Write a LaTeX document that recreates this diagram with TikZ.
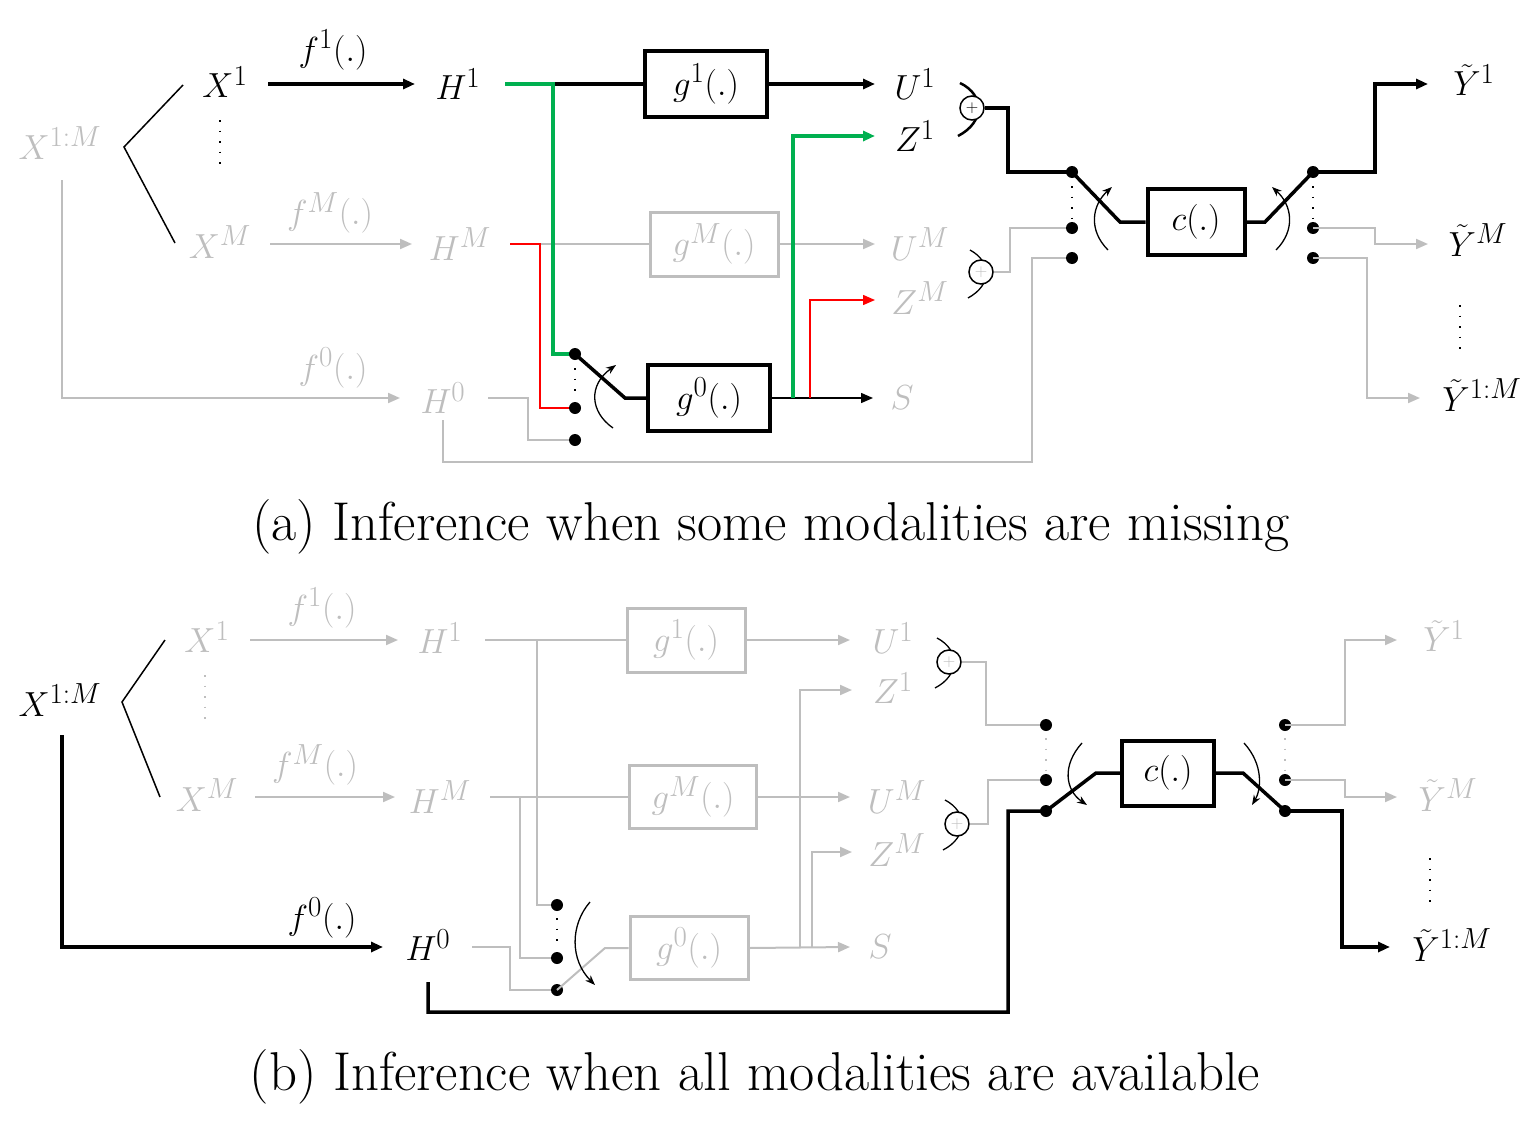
\documentclass[tikz,border=0pt]{standalone}
\usepackage{graphicx}
\usetikzlibrary{arrows.meta}
\definecolor{gr}{RGB}{190,190,190}
\definecolor{grn}{RGB}{0,176,80}
\newcommand{\zz}[1]{\scalebox{1.4}{#1}}
\newcommand{\zc}[1]{\scalebox{2.2}{#1}}
\begin{document}
\begin{tikzpicture}[x=1pt,y=-1pt,
 lab/.style={font=\Huge,inner sep=0pt},
 captxt/.style={font=\Huge,inner sep=0pt},
 box/.style={draw,line width=4pt},
 gbox/.style={draw=gr,line width=3pt,text=gr},
 ar/.style={-{Triangle[length=12pt,width=10pt]}},
 th/.style={line width=3.5pt},
 gl/.style={gr,line width=2pt},
 dot/.style={circle,fill,inner sep=0pt,minimum size=12pt},
 dts/.style={line width=1.5pt,dash pattern=on 1.5pt off 9pt},
 sw/.style={line width=1.3pt,-{Stealth[length=10pt]}},
 plus/.style={circle,draw,line width=1.5pt,minimum size=24pt,inner sep=0pt,font=\LARGE}]
\useasboundingbox (0,0) rectangle (1527,1135);
% ===================== (a) =====================
\node[lab,text=gr] (aX) at (60,143) {\zz{$X^{1:M}$}};
\node[lab] (aX1) at (225,82) {\zz{$X^1$}};
\node[lab,text=gr] (aXM) at (220,242) {\zz{$X^M$}};
\draw[line width=1.5pt] (183,85)--(124,147)--(175,243);
\draw[dts] (220,120)--(220,168);
\node[lab] (aH1) at (458,84) {\zz{$H^1$}};
\node[lab,text=gr] (aHM) at (460,244) {\zz{$H^M$}};
\node[lab,text=gr] (aH0) at (443,398) {\zz{$H^0$}};
\draw[th,ar] (268,84)--(415,84);
\node[lab] at (333,50) {\zz{$f^1(.)$}};
\draw[gl,ar] (270,244)--(412,244);
\node[lab,text=gr] at (330,213) {\zz{$f^M(.)$}};
\draw[gl,ar] (62,180)--(62,398)--(400,398);
\node[lab,text=gr] at (333,368) {\zz{$f^0(.)$}};
\node[box,minimum width=122pt,minimum height=66pt,lab] (ag1) at (706,84) {\zz{$g^1(.)$}};
\node[gbox,minimum width=128pt,minimum height=64pt,lab,text=gr] (agM) at (714,244) {\zz{$g^M(.)$}};
\node[box,minimum width=122pt,minimum height=66pt,lab] (ag0) at (709,398) {\zz{$g^0(.)$}};
\draw[th] (553,84)--(ag1.west);
\draw[th,ar] (ag1.east)--(875,84);
\node[lab] (aU1) at (915,84) {\zz{$U^1$}};
\node[lab] (aZ1) at (915,136) {\zz{$Z^1$}};
\node[lab,text=gr] (aUM) at (920,244) {\zz{$U^M$}};
\node[lab,text=gr] (aZM) at (920,298) {\zz{$Z^M$}};
\node[lab,text=gr] (aS) at (902,398) {\zz{$S$}};
\draw[gl] (510,244)--(agM.west);
\draw[gl,ar] (agM.east)--(875,244);
\draw[red,line width=2pt] (510,244)--(540,244)--(540,408)--(575,408);
\draw[gl] (488,398)--(528,398)--(528,440)--(575,440);
\draw[grn,line width=4pt] (505,84)--(553,84)--(553,354)--(575,354);
\node[dot] (as1) at (575,354) {};
\node[dot] (as2) at (575,408) {};
\node[dot] (as3) at (575,440) {};
\draw[dts] (575,368)--(575,398);
\draw[th] (as1.center)--(625,398)--(ag0.west);
\draw[sw] (613,428) .. controls (590,412) and (588,385) .. (616,365);
\draw[line width=1.5pt,ar] (ag0.east)--(873,398);
\draw[grn,line width=4pt] (793,398)--(793,136);
\draw[grn,line width=4pt,ar] (791,136)--(875,136);
\draw[red,line width=1.5pt,ar] (810,398)--(810,300)--(875,300);
\draw[gl] (443,420)--(443,462)--(1032,462)--(1032,258)--(1072,258);
% plus a
\draw[line width=2.5pt] (960,83) .. controls (985,95) and (985,122) .. (958,136);
\node[plus,fill=white] (ap1) at (972,108) {$+$};
\draw[line width=1.3pt] (970,250) .. controls (992,262) and (992,285) .. (968,298);
\node[plus,fill=white,text=gr] (apM) at (981,272) {$+$};
\draw[th] (ap1.east)--(1008,108)--(1008,172)--(1072,172);
\draw[gl] (apM.east)--(1010,272)--(1010,228)--(1072,228);
\node[dot] (ac1) at (1072,172) {};
\node[dot] (ac2) at (1072,228) {};
\node[dot] (ac3) at (1072,258) {};
\draw[dts] (1072,186)--(1072,218);
\node[box,minimum width=97pt,minimum height=66pt,lab] (ac) at (1196,222) {\zz{$c(.)$}};
\draw[th] (ac1.center)--(1120,222)--(ac.west);
\draw[sw] (1108,250) .. controls (1088,230) and (1092,205) .. (1112,187);
\draw[th] (ac.east)--(1265,222)--(1313,172);
\draw[sw] (1276,250) .. controls (1296,230) and (1292,205) .. (1272,187);
\node[dot] (ad1) at (1313,172) {};
\node[dot] (ad2) at (1313,228) {};
\node[dot] (ad3) at (1313,258) {};
\draw[dts] (1313,186)--(1313,218);
\draw[th,ar] (ad1.center)--(1375,172)--(1375,84)--(1428,84);
\draw[gl,ar] (ad2.center)--(1375,228)--(1375,244)--(1428,244);
\draw[gl,ar] (ad3.center)--(1367,258)--(1367,398)--(1420,398);
\node[lab] at (1474,80) {\zz{$\tilde{Y}^1$}};
\node[lab] at (1478,240) {\zz{$\tilde{Y}^M$}};
\node[lab] at (1482,395) {\zz{$\tilde{Y}^{1:M}$}};
\draw[dts] (1460,305)--(1460,352);
\node[captxt] at (771,527) {\zc{(a) Inference when some modalities are missing}};
% ===================== (b) =====================
\node[lab] (bX) at (60,700) {\zz{$X^{1:M}$}};
\node[lab,text=gr] (bX1) at (207,637) {\zz{$X^1$}};
\node[lab,text=gr] (bXM) at (207,795) {\zz{$X^M$}};
\draw[line width=1.5pt] (165,640)--(122,702)--(160,797);
\draw[gr,dts] (205,675)--(205,722);
\draw[th,ar] (62,735)--(62,947)--(383,947);
\node[lab] at (322,918) {\zz{$f^0(.)$}};
\node[lab] (bH0) at (428,945) {\zz{$H^0$}};
\draw[gl,ar] (250,640)--(398,640);
\node[lab,text=gr] at (322,608) {\zz{$f^1(.)$}};
\node[lab,text=gr] (bH1) at (440,638) {\zz{$H^1$}};
\draw[gl,ar] (255,797)--(395,797);
\node[lab,text=gr] at (315,765) {\zz{$f^M(.)$}};
\node[lab,text=gr] (bHM) at (440,797) {\zz{$H^M$}};
\node[gbox,minimum width=118pt,minimum height=64pt,lab,text=gr] (bg1) at (686,640) {\zz{$g^1(.)$}};
\node[gbox,minimum width=127pt,minimum height=63pt,lab,text=gr] (bgM) at (693,797) {\zz{$g^M(.)$}};
\node[gbox,minimum width=118pt,minimum height=63pt,lab,text=gr] (bg0) at (689,948) {\zz{$g^0(.)$}};
\draw[gl] (485,640)--(bg1.west);
\draw[gl,ar] (bg1.east)--(850,640);
\draw[gl] (490,797)--(bgM.west);
\draw[gl,ar] (bgM.east)--(850,797);
\draw[gl] (537,640)--(537,905)--(557,905);
\draw[gl] (520,797)--(520,958)--(557,958);
\draw[gl] (472,947)--(510,947)--(510,990)--(557,990);
\node[dot] (bs1) at (557,905) {};
\node[dot] (bs2) at (557,958) {};
\node[dot] (bs3) at (557,990) {};
\draw[dts] (557,918)--(557,948);
\draw[gl] (bs3.center)--(605,948)--(bg0.west);
\draw[sw] (590,902) .. controls (570,925) and (570,960) .. (595,985);
\draw[gl,ar] (bg0.east)--(850,947);
\draw[gl,ar] (800,947)--(800,690)--(852,690);
\draw[gl,ar] (812,947)--(812,852)--(852,852);
\node[lab,text=gr] at (893,638) {\zz{$U^1$}};
\node[lab,text=gr] at (893,688) {\zz{$Z^1$}};
\node[lab,text=gr] at (897,797) {\zz{$U^M$}};
\node[lab,text=gr] at (897,850) {\zz{$Z^M$}};
\node[lab,text=gr] at (880,947) {\zz{$S$}};
\draw[line width=1.3pt] (937,638) .. controls (960,650) and (960,675) .. (935,688);
\node[plus,fill=white,text=gr] (bp1) at (949,662) {$+$};
\draw[line width=1.3pt] (945,800) .. controls (968,812) and (968,837) .. (943,850);
\node[plus,fill=white,text=gr] (bpM) at (957,824) {$+$};
\draw[gl] (bp1.east)--(986,662)--(986,725)--(1046,725);
\draw[gl] (bpM.east)--(988,824)--(988,780)--(1046,780);
\node[dot] (bc1) at (1046,725) {};
\node[dot] (bc2) at (1046,780) {};
\node[dot] (bc3) at (1046,811) {};
\draw[gr,dts] (1046,738)--(1046,770);
\node[box,minimum width=92pt,minimum height=65pt,lab] (bc) at (1168,773) {\zz{$c(.)$}};
\draw[th] (428,982)--(428,1012)--(1008,1012)--(1008,811)--(bc3.center)--(1096,773)--(bc.west);
\draw[sw] (1082,743) .. controls (1062,765) and (1065,790) .. (1087,805);
\draw[th] (bc.east)--(1243,773)--(1285,811);
\node[dot] (bd1) at (1285,725) {};
\node[dot] (bd2) at (1285,780) {};
\node[dot] (bd3) at (1285,811) {};
\draw[gr,dts] (1285,738)--(1285,770);
\draw[sw] (1244,743) .. controls (1264,765) and (1261,790) .. (1252,805);
\draw[th,ar] (bd3.center)--(1342,811)--(1342,947)--(1390,947);
\draw[gl,ar] (bd1.center)--(1345,725)--(1345,640)--(1397,640);
\draw[gl,ar] (bd2.center)--(1345,780)--(1345,797)--(1397,797);
\node[lab,text=gr] at (1444,636) {\zz{$\tilde{Y}^1$}};
\node[lab,text=gr] at (1448,795) {\zz{$\tilde{Y}^M$}};
\node[lab] at (1452,945) {\zz{$\tilde{Y}^{1:M}$}};
\draw[dts] (1430,858)--(1430,905);
\node[captxt] at (755,1077) {\zc{(b) Inference when all modalities are available}};
\end{tikzpicture}
\end{document}
